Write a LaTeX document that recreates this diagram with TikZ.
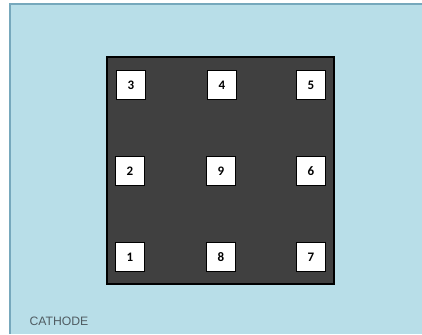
\documentclass[tikz,border=0pt]{standalone}
\usepackage{fontspec}
\setmainfont{Carlito}
\newfontfamily\labelfont{Liberation Sans}
\definecolor{bathblue}{RGB}{184,222,232}
\definecolor{bathedge}{RGB}{118,168,188}
\definecolor{platedark}{RGB}{64,64,64}
\definecolor{labelgray}{RGB}{80,92,98}
\begin{document}
\begin{tikzpicture}[x=1pt, y=-1pt, every node/.style={font=\bfseries\fontsize{13}{14}\selectfont}]
\tikzset{pad/.style={draw=black, line width=1.6pt, fill=white, minimum size=29pt, inner sep=0pt}}
\useasboundingbox (0,0) rectangle (422,334);
\fill[bathblue] (10,4) rectangle (422,334);
\draw[bathedge, line width=1.2pt] (10,334)--(10,4)--(422,4);
\draw[black, line width=1.2pt, fill=platedark] (107,57) rectangle (334,284);
\node[pad] (p3) at (131,85) {3}; \node[pad] (p4) at (222,85) {4}; \node[pad] (p5) at (311,85) {5};
\node[pad] (p2) at (130,171) {2}; \node[pad] (p9) at (221,171) {9}; \node[pad] (p6) at (311,171) {6};
\node[pad] (p1) at (130,257) {1}; \node[pad] (p8) at (221,257) {8}; \node[pad] (p7) at (311,257) {7};
\node[anchor=west, labelgray, font=\labelfont\fontsize{12.2}{14}\selectfont] (cathode) at (26,321) {CATHODE};
\end{tikzpicture}
\end{document}
